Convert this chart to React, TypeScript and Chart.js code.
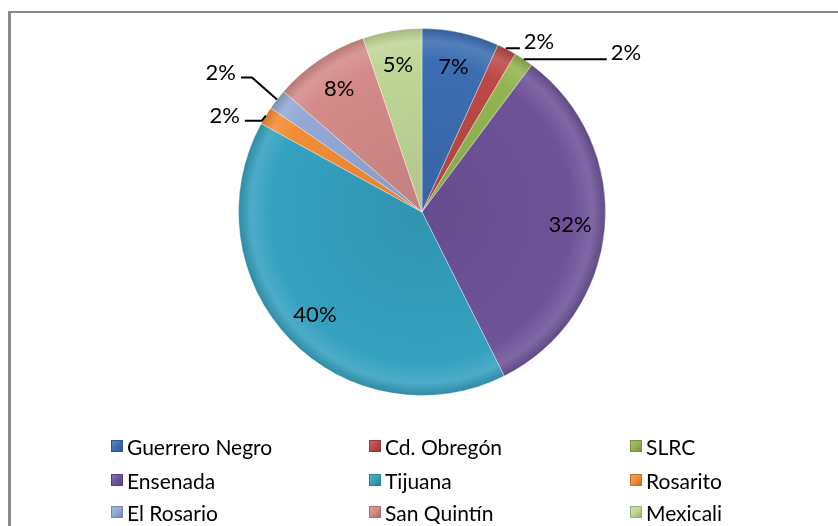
import React, { useEffect, useRef } from "react";
import { Chart, registerables } from "chart.js";

Chart.register(...registerables);

const categories = [
  "Guerrero Negro",
  "Cd. Obregón",
  "SLRC",
  "Ensenada",
  "Tijuana",
  "Rosarito",
  "El Rosario",
  "San Quintín",
  "Mexicali",
];
const shares = [6.8, 1.7, 1.7, 32.4, 40.4, 1.6, 1.8, 8.4, 5.2];
const sliceColors = [
  "#3C6DB2",
  "#BB4946",
  "#92B551",
  "#6F5399",
  "#35A1C0",
  "#F38C35",
  "#92A9D6",
  "#D48B89",
  "#C0D697",
];
// leader-line style per slice (null = label inside slice)
const leaderLines: ({ elbow: [number, number]; run: number } | null)[] = [
  null,
  { elbow: [0, -1], run: 13 },
  { elbow: [0, 0], run: 83 },
  null,
  null,
  { elbow: [-4, 5], run: -17 },
  { elbow: [-25, -22], run: -11 },
  null,
  null,
];

const FONT = "Lato, 'Open Sans', sans-serif";

function shade(hex: string, amt: number): string {
  const n = parseInt(hex.slice(1), 16);
  let r = (n >> 16) & 255,
    g = (n >> 8) & 255,
    b = n & 255;
  const f = (c: number) =>
    Math.round(amt >= 0 ? c + (255 - c) * amt : c * (1 + amt));
  return `rgb(${f(r)},${f(g)},${f(b)})`;
}

const labelPlugin = {
  id: "pctLabels",
  afterDatasetsDraw(chart: any) {
    const ctx = chart.ctx;
    const meta = chart.getDatasetMeta(0);
    const data = chart.data.datasets[0].data as number[];
    const total = data.reduce((a, b) => a + b, 0);
    ctx.save();
    ctx.font = `22px ${FONT}`;
    ctx.fillStyle = "#000";
    ctx.strokeStyle = "#000";
    ctx.lineWidth = 2;
    meta.data.forEach((arc: any, i: number) => {
      const { x, y, startAngle, endAngle, outerRadius } = arc.getProps(
        ["x", "y", "startAngle", "endAngle", "outerRadius"],
        true
      );
      const mid = (startAngle + endAngle) / 2;
      const txt = Math.round((data[i] / total) * 100) + "%";
      const ll = leaderLines[i];
      if (!ll) {
        const r = outerRadius * 0.81;
        ctx.textAlign = "center";
        ctx.textBaseline = "middle";
        ctx.fillText(txt, x + Math.cos(mid) * r, y + Math.sin(mid) * r);
      } else {
        const ex = x + Math.cos(mid) * outerRadius;
        const ey = y + Math.sin(mid) * outerRadius;
        const bx = ex + ll.elbow[0];
        const by = ey + ll.elbow[1];
        const tx = bx + ll.run;
        ctx.beginPath();
        ctx.moveTo(ex, ey);
        ctx.lineTo(bx, by);
        ctx.lineTo(tx, by);
        ctx.stroke();
        ctx.textBaseline = "middle";
        if (ll.run >= 0) {
          ctx.textAlign = "left";
          ctx.fillText(txt, tx + 4, by - 6);
        } else {
          ctx.textAlign = "right";
          ctx.fillText(txt, tx - 5, by - 5);
        }
      }
    });
    ctx.restore();
  },
};

export default function App() {
  const ref = useRef<HTMLCanvasElement | null>(null);
  useEffect(() => {
    document.body.style.overflow = "hidden";
    const canvas = ref.current!;
    const chart = new Chart(canvas, {
      type: "pie",
      data: {
        labels: categories,
        datasets: [
          {
            data: shares,
            backgroundColor: (c: any) => {
              const base = sliceColors[c.dataIndex % sliceColors.length];
              const area = c.chart.chartArea;
              if (!area) return base;
              const cx = (area.left + area.right) / 2;
              const cy = (area.top + area.bottom) / 2;
              const r = Math.min(area.width, area.height) / 2;
              const g = c.chart.ctx.createRadialGradient(cx, cy, 0, cx, cy, r);
              g.addColorStop(0, shade(base, -0.08));
              g.addColorStop(0.82, base);
              g.addColorStop(0.93, shade(base, 0.12));
              g.addColorStop(1, shade(base, -0.15));
              return g;
            },
            borderColor: "rgba(255,255,255,0.35)",
            borderWidth: 1,
          },
        ],
      },
      options: {
        animation: false,
        responsive: false,
        layout: { padding: { left: 238, right: 232, top: 28, bottom: 130 } },
        plugins: {
          legend: { display: false },
          tooltip: { enabled: false },
        },
      },
      plugins: [labelPlugin],
    });
    return () => chart.destroy();
  }, []);

  const cols = [111, 369, 630];
  const rows = [446, 480, 512];

  return (
    <div
      style={{
        position: "absolute",
        left: 0,
        top: 0,
        width: 838,
        height: 526,
        overflow: "hidden",
        background: "#fff",
      }}
    >
      <div
        style={{
          position: "absolute",
          left: 8,
          top: 11,
          width: 860,
          height: 560,
          borderLeft: "3px solid #8a8a8a",
          borderTop: "2px solid #8a8a8a",
          boxSizing: "border-box",
        }}
      />
      <canvas
        ref={ref}
        width={838}
        height={526}
        style={{ position: "absolute", left: 0, top: 0 }}
      />
      {categories.map((name, i) => {
        const col = cols[i % 3];
        const row = rows[Math.floor(i / 3)];
        const c = sliceColors[i];
        return (
          <div
            key={name}
            style={{
              position: "absolute",
              left: col,
              top: row - 14,
              height: 28,
              display: "flex",
              alignItems: "center",
              whiteSpace: "nowrap",
              fontFamily: FONT,
              fontSize: 21,
              color: "#000",
            }}
          >
            <span
              style={{
                display: "inline-block",
                width: 12,
                height: 12,
                marginRight: 4,
                background: `linear-gradient(135deg, ${shade(c, 0.2)}, ${c} 50%, ${shade(c, -0.25)})`,
                boxShadow: `inset 0 0 0 1px ${shade(c, -0.2)}`,
              }}
            />
            <span>{name}</span>
          </div>
        );
      })}
    </div>
  );
}
